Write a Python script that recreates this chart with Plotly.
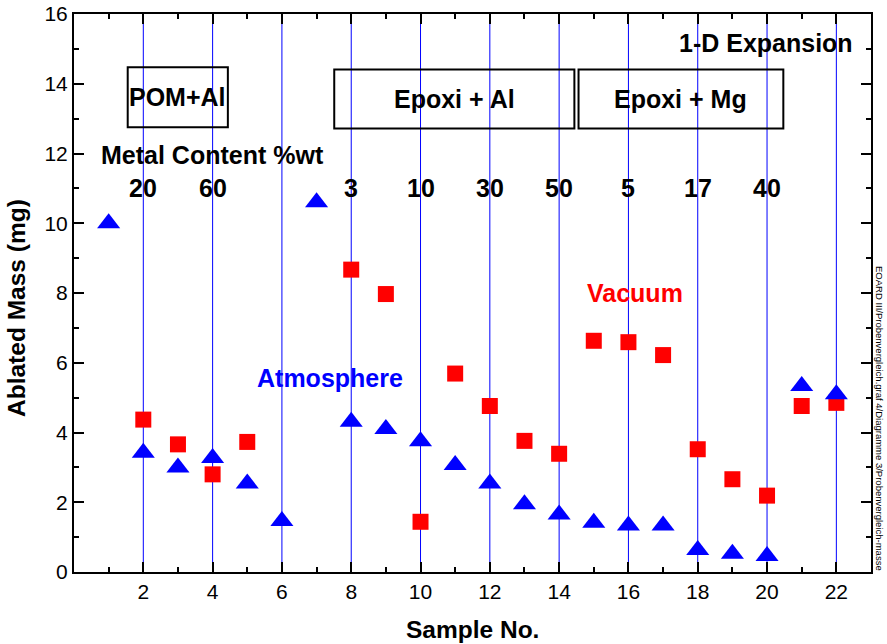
import plotly.graph_objects as go

# ---------------- data ----------------
samples = list(range(1, 23))
atmosphere = [10.0, 3.42, 3.0, 3.27, 2.54, 1.46, 10.6, 4.31, 4.1, 3.75, 3.07,
              2.54, 1.94, 1.65, 1.41, 1.33, 1.33, 0.63, 0.52, 0.46, 5.33, 5.1]
vac_samples = [2, 3, 4, 5, 8, 9, 10, 11, 12, 13, 14, 15, 16, 17, 18, 19, 20, 21, 22]
vacuum = [4.37, 3.66, 2.8, 3.73, 8.67, 7.97, 1.44, 5.69, 4.76, 3.76, 3.39,
          6.63, 6.59, 6.22, 3.52, 2.66, 2.19, 4.76, 4.85]

guide_samples = [2, 4, 6, 8, 10, 12, 14, 16, 18, 20, 22]
content_samples = [2, 4, 8, 10, 12, 14, 16, 18, 20]
content_labels = ["20", "60", "3", "10", "30", "50", "5", "17", "40"]

group_names = ["POM+Al", "Epoxi + Al", "Epoxi + Mg"]
group_x0 = [1.55, 7.51, 14.56]
group_x1 = [4.44, 14.44, 20.47]
group_y0 = [12.75, 12.72, 12.72]
group_y1 = [14.47, 14.41, 14.41]

x_ticks = [2, 4, 6, 8, 10, 12, 14, 16, 18, 20, 22]
y_ticks = [0, 2, 4, 6, 8, 10, 12, 14, 16]

FONT = "Arial, Liberation Sans, sans-serif"
BOLD = 25

fig = go.Figure()

# vertical guide lines
gx, gy = [], []
for s in guide_samples:
    gx += [s, s, None]
    gy += [0, 16, None]
fig.add_trace(go.Scatter(x=gx, y=gy, mode="lines",
                         line=dict(color="#0000ff", width=1),
                         hoverinfo="skip", showlegend=False))

fig.add_trace(go.Scatter(x=vac_samples, y=vacuum, mode="markers", name="Vacuum",
                         marker=dict(symbol="square", size=16, color="#ff0000",
                                     line=dict(width=0)),
                         showlegend=False))
fig.add_trace(go.Scatter(x=samples, y=atmosphere, mode="markers", name="Atmosphere",
                         marker=dict(symbol="triangle-up", size=20, color="#0000ff",
                                     line=dict(width=0)),
                         showlegend=False))

shapes = []
annotations = []
for name, x0, x1, y0, y1 in zip(group_names, group_x0, group_x1, group_y0, group_y1):
    shapes.append(dict(type="rect", xref="x", yref="y", x0=x0, x1=x1, y0=y0, y1=y1,
                       line=dict(color="black", width=2), fillcolor="rgba(0,0,0,0)"))
    annotations.append(dict(x=(x0 + x1) / 2, y=(y0 + y1) / 2, xref="x", yref="y",
                            text="<b>%s</b>" % name, showarrow=False,
                            font=dict(family=FONT, size=BOLD, color="black")))

for s, lab in zip(content_samples, content_labels):
    annotations.append(dict(x=s, y=11.0, xref="x", yref="y", text="<b>%s</b>" % lab,
                            showarrow=False,
                            font=dict(family=FONT, size=BOLD, color="black")))

annotations += [
    dict(x=0.73, y=11.95, xref="x", yref="y", xanchor="left",
         text="<b>Metal Content %wt</b>", showarrow=False,
         font=dict(family=FONT, size=BOLD, color="black")),
    dict(x=22.53, y=15.16, xref="x", yref="y", xanchor="right",
         text="<b>1-D Expansion</b>", showarrow=False,
         font=dict(family=FONT, size=BOLD, color="black")),
    dict(x=16.18, y=7.99, xref="x", yref="y", text="<b>Vacuum</b>", showarrow=False,
         font=dict(family=FONT, size=BOLD, color="#ff0000")),
    dict(x=7.4, y=5.56, xref="x", yref="y", text="<b>Atmosphere</b>", showarrow=False,
         font=dict(family=FONT, size=BOLD, color="#0000ff")),
    # axis titles
    dict(x=472, y=629, xref="paper", yref="paper", text="<b>Sample No.</b>",
         showarrow=False, font=dict(family=FONT, size=24.5, color="black")),
    dict(x=16, y=308, xref="paper", yref="paper", text="<b>Ablated Mass (mg)</b>",
         textangle=-90, showarrow=False, font=dict(family=FONT, size=24.5, color="black")),
    dict(x=880, y=418, xref="paper", yref="paper",
         text="EOARD III/Probenvergleich.graf 4/Diagramme 3/Probenvergleich-masse",
         textangle=90, showarrow=False, font=dict(family=FONT, size=9.5, color="black")),
]

# convert pixel-placed paper annotations to paper fractions
L, R, T, B = 74, 16, 14, 72
W, H = 887, 644
pw, ph = W - L - R, H - T - B
for a in annotations:
    if a.get("xref") == "paper":
        a["x"] = (a["x"] - L) / pw
        a["y"] = (H - B - a["y"]) / ph
        a["xanchor"] = "center"
        a["yanchor"] = "middle"

axis_common = dict(
    ticks="inside", ticklen=10, tickwidth=2, tickcolor="black",
    showline=True, linewidth=2, linecolor="black", mirror="allticks",
    showgrid=False, zeroline=False, automargin=False,
    tickfont=dict(family=FONT, size=21, color="black"),
    minor=dict(tickmode="linear", tick0=0, dtick=1, ticks="inside",
               ticklen=5, tickwidth=2, tickcolor="black", showgrid=False),
)

fig.update_layout(
    width=W, height=H,
    margin=dict(l=L, r=R, t=T, b=B, autoexpand=False),
    paper_bgcolor="white", plot_bgcolor="white",
    shapes=shapes, annotations=annotations,
    font=dict(family=FONT, color="black"),
    xaxis=dict(range=[0, 23], tickmode="array", tickvals=x_ticks, **axis_common),
    yaxis=dict(range=[0, 16], tickmode="array", tickvals=y_ticks, **axis_common),
)

fig.write_html("out.html", config={"displayModeBar": False},
               post_script="document.body.style.margin='0';")
